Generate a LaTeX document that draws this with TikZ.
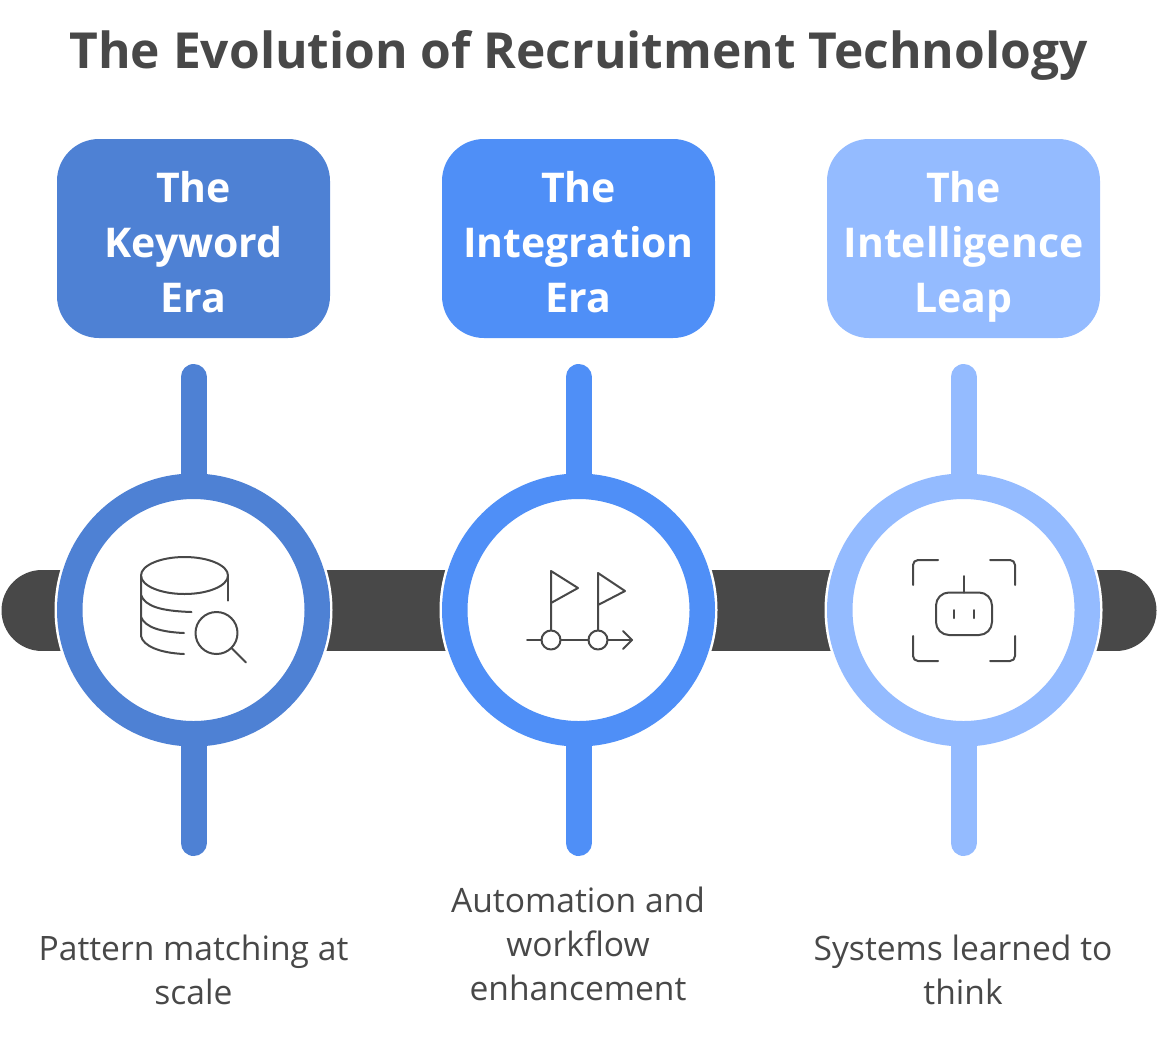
\documentclass[tikz,border=0pt]{standalone}
\usepackage{fontspec}
\setmainfont{Open Sans}
\definecolor{ink}{HTML}{484848}
\definecolor{blueA}{HTML}{4E81D4}
\definecolor{blueB}{HTML}{4F8FF7}
\definecolor{blueC}{HTML}{94BBFF}
\tikzset{
 headbox/.style={draw=none,rounded corners=42pt,minimum width=273pt,minimum height=199pt,inner sep=0pt},
 headtext/.style={align=center,text=white,inner sep=0pt,font=\fontsize{41}{55}\selectfont\bfseries},
 ring/.style={circle,fill=white,minimum size=278pt,inner sep=0pt},
 stem/.style={line width=26pt,line cap=round},
 caption/.style={align=center,text=ink,font=\fontsize{33.6}{44}\selectfont,inner sep=0pt},
 ic/.style={draw=ink,line width=2pt,line cap=round,line join=round}
}
\begin{document}
\begin{tikzpicture}[x=1pt,y=-1pt]
\useasboundingbox (0,0) rectangle (1158,1036);
\node[inner sep=0pt,text=ink,font=\fontsize{49.7}{60}\selectfont\bfseries] (title) at (578.5,55) {The Evolution of Recruitment Technology};
% bar
\coordinate (barL) at (42,610.5);
\coordinate (barR) at (1116,610.5);
\draw[ink,line width=81pt,line cap=round] (barL) -- (barR);
% columns
\foreach \n/\x/\c/\t in {1/193/blueA/{\strut The\\Keyword\\Era\strut},2/578/blueB/{\strut The\\Integration\\Era\strut},3/963/blueC/{\strut The\\Intelligence\\Leap\strut}}{
 \node[headbox,fill=\c] (box\n) at (\x+0.5,238.5) {};
 \node[headtext] (label\n) at (\x+0.5,246.5) {\t};
 \node[ring] (halo\n) at (\x+0.5,610) {};
 \coordinate (top\n) at (\x+0.5,377);
 \coordinate (bot\n) at (\x+0.5,843);
 \draw[stem,\c] (top\n) -- (bot\n);
 \node[circle,draw=\c,fill=white,line width=25.5pt,minimum size=247.5pt,inner sep=0pt] (ring\n) at (\x+0.5,610) {};
}
\node[caption] (cap1) at (193.5,970) {Pattern matching at\\scale};
\node[caption] (cap2) at (578,944) {Automation and\\workflow\\enhancement};
\node[caption] (cap3) at (963,970) {Systems learned to\\think};
% database icon
\draw[ic] (184.5,575.5) ellipse [x radius=43.5, y radius=18.5];
\draw[ic] (141,576) -- (141,636) .. controls (143,646) and (160,653) .. (184,654);
\draw[ic] (141,595) .. controls (145,606) and (160,611) .. (191.5,612);
\draw[ic] (141,617) .. controls (145,627) and (160,632) .. (184,633);
\draw[ic] (228,576) -- (228,600.5);
\draw[ic] (216.5,633) circle [radius=21];
\draw[ic] (231.5,648) -- (246,662.5);
% flags icon
\draw[ic] (527,640) -- (541.5,640);
\draw[ic] (560.5,640) -- (588.5,640);
\draw[ic] (607.5,640) -- (632,640);
\draw[ic] (623,631) -- (632,640) -- (623,649);
\draw[ic] (551,640) circle [radius=9.5];
\draw[ic] (598,640) circle [radius=9.5];
\draw[ic] (551,630) -- (551,571) -- (578,588) -- (551,603);
\draw[ic] (598,630) -- (598,573) -- (625,591) -- (598,605);
% robot icon
\draw[ic] (913,585) -- (913,565) arc[start angle=180,end angle=270,radius=5] -- (938,560);
\draw[ic] (990,560) -- (1010,560) arc[start angle=270,end angle=360,radius=5] -- (1015,585);
\draw[ic] (913,636) -- (913,656) arc[start angle=180,end angle=90,radius=5] -- (938,661);
\draw[ic] (990,661) -- (1010,661) arc[start angle=90,end angle=0,radius=5] -- (1015,636);
\draw[ic,rounded corners=13pt] (936,592.5) rectangle (992,635);
\draw[ic] (964,576) -- (964,592.5);
\draw[ic] (954,610) -- (954,618);
\draw[ic] (974,610) -- (974,618);
\end{tikzpicture}
\end{document}
